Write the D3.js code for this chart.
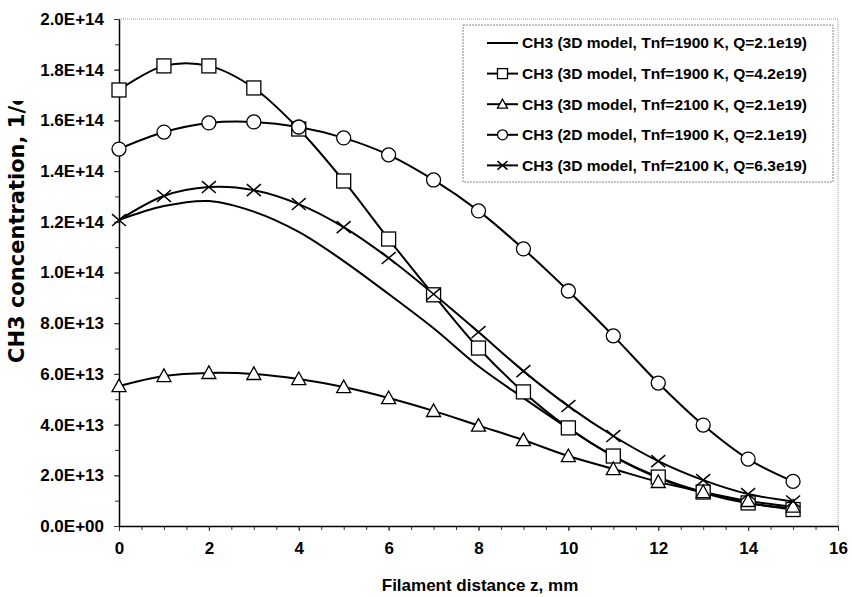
<!DOCTYPE html>
<html>
<head>
<meta charset="utf-8">
<script src="https://cdn.jsdelivr.net/npm/d3@7"></script>
<style>
  body { margin: 0; background: #fff; }
  text { fill: #000; }
</style>
</head>
<body>
<svg id="chart" width="852" height="597"></svg>
<script>
// filament distance z, mm
let distances = [0, 1, 2, 3, 4, 5, 6, 7, 8, 9, 10, 11, 12, 13, 14, 15];

// CH3 concentration, 1/cm3
let ch3_3d_1900_q21 = [1.207e14, 1.262e14, 1.282e14, 1.24e14, 1.16e14, 1.045e14, 0.915e14, 0.78e14,
  0.63e14, 0.505e14, 0.385e14, 0.275e14, 0.19e14, 0.13e14, 0.09e14, 0.07e14];
let ch3_3d_1900_q42 = [1.72e14, 1.815e14, 1.815e14, 1.728e14, 1.566e14, 1.361e14, 1.132e14, 0.912e14,
  0.702e14, 0.529e14, 0.387e14, 0.276e14, 0.193e14, 0.134e14, 0.091e14, 0.065e14];
let ch3_3d_2100_q21 = [0.552e14, 0.592e14, 0.604e14, 0.6e14, 0.58e14, 0.548e14, 0.505e14, 0.454e14,
  0.396e14, 0.339e14, 0.276e14, 0.225e14, 0.174e14, 0.134e14, 0.099e14, 0.077e14];
let ch3_2d_1900_q21 = [1.487e14, 1.554e14, 1.59e14, 1.594e14, 1.574e14, 1.531e14, 1.464e14, 1.365e14,
  1.243e14, 1.093e14, 0.927e14, 0.75e14, 0.564e14, 0.398e14, 0.264e14, 0.176e14];
let ch3_3d_2100_q63 = [1.207e14, 1.302e14, 1.337e14, 1.325e14, 1.27e14, 1.179e14, 1.057e14, 0.915e14,
  0.765e14, 0.611e14, 0.473e14, 0.355e14, 0.256e14, 0.181e14, 0.126e14, 0.097e14];

let seriesNames = [
  "CH3 (3D model, Tnf=1900 K, Q=2.1e19)",
  "CH3 (3D model, Tnf=1900 K, Q=4.2e19)",
  "CH3 (3D model, Tnf=2100 K, Q=2.1e19)",
  "CH3 (2D model, Tnf=1900 K, Q=2.1e19)",
  "CH3 (3D model, Tnf=2100 K, Q=6.3e19)"
];
let seriesMarkers = ["none", "square", "triangle", "circle", "cross"];
let seriesValues = [ch3_3d_1900_q21, ch3_3d_1900_q42, ch3_3d_2100_q21, ch3_2d_1900_q21, ch3_3d_2100_q63];

let xTicks = [0, 2, 4, 6, 8, 10, 12, 14, 16];
let yTicks = [0, 2e13, 4e13, 6e13, 8e13, 1e14, 1.2e14, 1.4e14, 1.6e14, 1.8e14, 2e14];

let svg = d3.select("#chart");

let x = d3.scaleLinear().domain([0, 16]).range([119, 838]);
let y = d3.scaleLinear().domain([0, 2e14]).range([526, 19]);

function fmtE(v) {
  if (v === 0) return "0.0E+00";
  return d3.format(".1e")(v).toUpperCase();
}

// plot area frame (top and right, light dotted)
svg.append("path")
  .attr("d", "M" + x(0) + "," + y(2e14) + "H" + x(16) + "V" + y(0))
  .style("fill", "none")
  .style("stroke", "#999")
  .style("stroke-width", 1)
  .style("stroke-dasharray", "1,1");

// minor ticks
let xMinor = d3.range(0, 16.01, 0.5);
let yMinor = d3.range(0, 2.01e14, 1e13);

svg.append("g")
  .attr("transform", "translate(0," + y(0) + ")")
  .call(d3.axisBottom(x).tickValues(xMinor).tickSize(4).tickSizeOuter(0).tickFormat(""))
  .call(g => g.select(".domain").remove());

svg.append("g")
  .attr("transform", "translate(" + x(0) + ",0)")
  .call(d3.axisLeft(y).tickValues(yMinor).tickSize(4).tickSizeOuter(0).tickFormat(""))
  .call(g => g.select(".domain").remove());

// main axes
let xAxis = svg.append("g")
  .attr("transform", "translate(0," + y(0) + ")")
  .call(d3.axisBottom(x).tickValues(xTicks).tickSize(5).tickSizeOuter(0).tickPadding(11));

let yAxis = svg.append("g")
  .attr("transform", "translate(" + x(0) + ",0)")
  .call(d3.axisLeft(y).tickValues(yTicks).tickSize(5).tickSizeOuter(0).tickPadding(10).tickFormat(fmtE));

svg.selectAll(".domain").style("stroke", "#000").style("stroke-width", 1.5);
svg.selectAll(".tick line").style("stroke", "#333").style("stroke-width", 1);

xAxis.selectAll("text")
  .style("font-family", "Liberation Sans, Arial, sans-serif")
  .style("font-weight", "bold")
  .style("font-size", "17px");

yAxis.selectAll("text")
  .style("font-family", "Liberation Sans, Arial, sans-serif")
  .style("font-weight", "bold")
  .style("font-size", "17px");

// axis titles
svg.append("text")
  .attr("x", 480)
  .attr("y", 591)
  .attr("text-anchor", "middle")
  .style("font-family", "Liberation Sans, Arial, sans-serif")
  .style("font-weight", "bold")
  .style("font-size", "17px")
  .text("Filament distance z, mm");

// the y title is cut off at the top in the original
svg.append("clipPath")
  .attr("id", "ytitle-clip")
  .append("rect")
  .attr("x", 0).attr("y", 101).attr("width", 60).attr("height", 496);

svg.append("g")
  .attr("clip-path", "url(#ytitle-clip)")
  .append("text")
  .attr("transform", "translate(23.5,363) rotate(-90)")
  .attr("text-anchor", "start")
  .style("font-family", "DejaVu Sans, Verdana, sans-serif")
  .style("font-weight", "bold")
  .style("font-size", "21px")
  .text("CH3 concentration, 1/cm3");

// markers
function drawMarker(g, type, cx, cy, s) {
  let h = s / 2;
  if (type === "square") {
    g.append("rect")
      .attr("x", cx - h).attr("y", cy - h).attr("width", s).attr("height", s)
      .style("fill", "#fff").style("stroke", "#000").style("stroke-width", 1.3);
  } else if (type === "circle") {
    g.append("circle")
      .attr("cx", cx).attr("cy", cy).attr("r", h)
      .style("fill", "#fff").style("stroke", "#000").style("stroke-width", 1.3);
  } else if (type === "triangle") {
    g.append("path")
      .attr("d", "M" + cx + "," + (cy - h) + "L" + (cx + h) + "," + (cy + h * 0.8) +
        "L" + (cx - h) + "," + (cy + h * 0.8) + "Z")
      .style("fill", "#fff").style("stroke", "#000").style("stroke-width", 1.3);
  } else if (type === "cross") {
    g.append("path")
      .attr("d", "M" + (cx - h) + "," + (cy - h * 0.85) + "L" + (cx + h) + "," + (cy + h * 0.85) +
        "M" + (cx - h) + "," + (cy + h * 0.85) + "L" + (cx + h) + "," + (cy - h * 0.85))
      .style("fill", "none").style("stroke", "#000").style("stroke-width", 1.5);
  }
}

let lineFunction = d3.line()
  .x(function(d, i) { return x(distances[i]); })
  .y(function(d) { return y(d); })
  .curve(d3.curveCatmullRom);

let plot = svg.append("g");

seriesValues.forEach(function(vals) {
  plot.append("path")
    .attr("d", lineFunction(vals))
    .style("fill", "none")
    .style("stroke", "#000")
    .style("stroke-width", 2);
});

seriesValues.forEach(function(vals, k) {
  let g = plot.append("g");
  vals.forEach(function(v, i) {
    drawMarker(g, seriesMarkers[k], x(distances[i]), y(v), 14);
  });
});

// legend
let legend = svg.append("g");
legend.append("rect")
  .attr("x", 463).attr("y", 25).attr("width", 370).attr("height", 157)
  .style("fill", "#fff")
  .style("stroke", "#888")
  .style("stroke-width", 1)
  .style("stroke-dasharray", "2,1");

seriesNames.forEach(function(name, k) {
  let cy = 43 + k * 30.6;
  legend.append("line")
    .attr("x1", 487).attr("x2", 518).attr("y1", cy).attr("y2", cy)
    .style("stroke", "#000").style("stroke-width", 2);
  drawMarker(legend, seriesMarkers[k], 502.5, cy, 10);
  legend.append("text")
    .attr("x", 522)
    .attr("y", cy)
    .attr("dy", "0.36em")
    .attr("textLength", 285)
    .attr("lengthAdjust", "spacingAndGlyphs")
    .style("font-family", "Liberation Sans, Arial, sans-serif")
    .style("font-weight", "bold")
    .style("font-size", "15px")
    .text(name);
});
</script>
</body>
</html>
